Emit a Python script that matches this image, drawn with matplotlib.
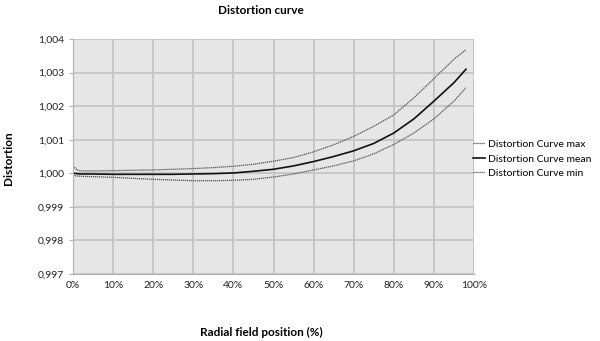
import matplotlib
matplotlib.use("Agg")
import matplotlib.pyplot as plt
from matplotlib.ticker import FuncFormatter, MultipleLocator

plt.rcParams['font.family'] = ['Lato', 'DejaVu Sans']

# radial field position (%)
positions = [0, 1, 2, 5, 10, 15, 20, 25, 30, 35, 40, 45, 50, 55, 60, 65,
             70, 75, 80, 85, 90, 95, 98]
curve_max = [1.00022, 1.00010, 1.00007, 1.00007, 1.00008, 1.00009, 1.00010,
             1.00012, 1.00014, 1.00017, 1.00021, 1.00027, 1.00036, 1.00047,
             1.00064, 1.00085, 1.00110, 1.00140, 1.00174, 1.00225, 1.00282,
             1.00340, 1.00368]
curve_mean = [1.00000, 0.99999, 0.99998, 0.99998, 0.99997, 0.99997, 0.99997,
              0.99997, 0.99998, 0.99999, 1.00001, 1.00006, 1.00012, 1.00022,
              1.00035, 1.00050, 1.00067, 1.00089, 1.00120, 1.00162, 1.00215,
              1.00270, 1.00310]
curve_min = [0.99994, 0.99992, 0.99991, 0.99990, 0.99988, 0.99985, 0.99982,
             0.99980, 0.99978, 0.99978, 0.99979, 0.99982, 0.99989, 0.99998,
             1.00010, 1.00022, 1.00037, 1.00058, 1.00086, 1.00120, 1.00162,
             1.00215, 1.00255]

fig = plt.figure(figsize=(6, 3.41), dpi=100)
ax = fig.add_axes([0.1217, 0.1965, 0.6683, 0.689])
ax.set_facecolor('#e6e6e6')

ax.plot(positions, curve_max, color='#555555', lw=0.9, ls=(0, (1, 0.6)),
        label='Distortion Curve max')
ax.plot(positions, curve_mean, color='#111111', lw=1.2,
        label='Distortion Curve mean')
ax.plot(positions, curve_min, color='#555555', lw=0.9, ls=(0, (1, 0.6)),
        label='Distortion Curve min')

ax.set_xlim(0, 100)
ax.set_ylim(0.997, 1.004)
ax.xaxis.set_major_locator(MultipleLocator(10))
ax.yaxis.set_major_locator(MultipleLocator(0.001))
ax.xaxis.set_major_formatter(FuncFormatter(lambda v, p: f"{v:.0f}%"))
ax.yaxis.set_major_formatter(
    FuncFormatter(lambda v, p: f"{v:.3f}".replace('.', ',')))
ax.grid(True, color='#c4c4c4', lw=1.3)
ax.set_axisbelow(True)
for s in ['top', 'right']:
    ax.spines[s].set_visible(False)
for s in ['left', 'bottom']:
    ax.spines[s].set_color('#b0b0b0')
ax.tick_params(axis='both', labelsize=7.5, colors='#b0b0b0',
               labelcolor='#222222', length=3)
ax.tick_params(axis='x', length=0, pad=5)

fig.text(261 / 600, 1 - 11 / 341, 'Distortion curve', ha='center',
         va='center', fontsize=8.5, fontweight='bold')
fig.text(261 / 600, 1 - 332 / 341, 'Radial field position (%)', ha='center',
         va='center', fontsize=8.5, fontweight='bold')
fig.text(9 / 600, 1 - 158 / 341, 'Distortion', ha='center', va='center',
         rotation=90, fontsize=8.5, fontweight='bold')

ax.legend(loc='center left', bbox_to_anchor=(0.9975, 0.49), frameon=False,
          fontsize=7.5, handlelength=1.2, handletextpad=0.2,
          labelspacing=0.5, borderaxespad=0, borderpad=0)

fig.savefig('out.png', dpi=100)
